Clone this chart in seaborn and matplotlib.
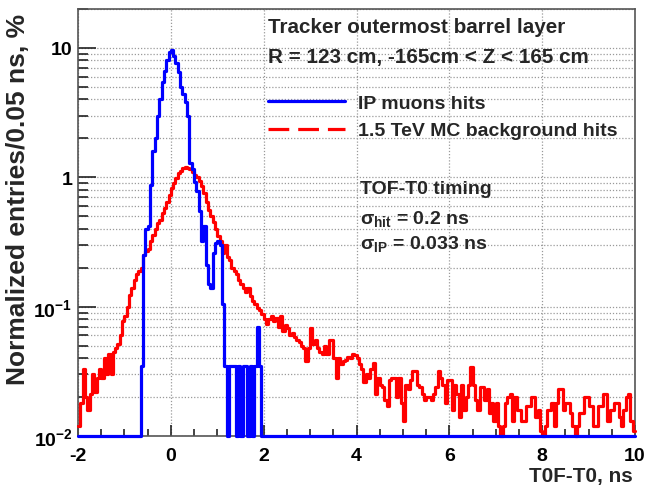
import numpy as np
import matplotlib
matplotlib.use("Agg")
import matplotlib.pyplot as plt
from matplotlib import font_manager
from matplotlib.lines import Line2D
from matplotlib.ticker import FixedLocator, FixedFormatter, MultipleLocator, LogLocator, NullFormatter
import seaborn as sns

# ---------------- data (normalized entries per 0.05 ns bin, %) ----------------
bin_width = 0.05
x_min, x_max = -2.0, 10.0

# IP muon hits: first non-empty bin starts at -0.65 ns
blue_start = -0.65
blue_values = [
    0.035, 0.25, 0.40, 0.42, 0.87, 1.6, 2.0, 3.0, 4.0, 5.5,
    6.6, 8.0, 9.3, 9.6, 8.6, 7.6, 6.5, 5.0, 4.4, 3.8,
    3.0, 1.3, 1.15, 0.92, 0.78, 0.55, 0.32, 0.42, 0.21, 0.15,
    0.14, 0.26, 0.31, 0.32, 0.30, 0.104, 0.035, 0.0, 0.035, 0.035,
    0.035, 0.0, 0.035, 0.0, 0.035, 0.035, 0.0, 0.035, 0.0, 0.035,
    0.07, 0.035, 0.0,
]

# 1.5 TeV MC background hits: bins from -2 to 10 ns
red_values = [
    # -2 .. -1
    0.012, 0.018, 0.033, 0.020, 0.016, 0.021, 0.030, 0.022, 0.028, 0.033,
    0.028, 0.040, 0.030, 0.043, 0.030, 0.045, 0.048, 0.051, 0.060, 0.078,
    # -1 .. 0
    0.085, 0.100, 0.124, 0.140, 0.160, 0.180, 0.190, 0.200, 0.250, 0.270,
    0.280, 0.320, 0.360, 0.400, 0.440, 0.470, 0.530, 0.580, 0.650, 0.730,
    # 0 .. 1
    0.82, 0.90, 0.98, 1.08, 1.12, 1.17, 1.20, 1.18, 1.15, 1.10,
    1.05, 1.00, 0.93, 0.85, 0.75, 0.65, 0.56, 0.50, 0.45, 0.40,
    # 1 .. 2
    0.350, 0.320, 0.260, 0.300, 0.240, 0.230, 0.200, 0.190, 0.180, 0.160,
    0.150, 0.140, 0.130, 0.140, 0.120, 0.110, 0.105, 0.098, 0.095, 0.087,
    # 2 .. 3
    0.080, 0.073, 0.080, 0.085, 0.078, 0.082, 0.070, 0.085, 0.065, 0.072,
    0.069, 0.060, 0.063, 0.058, 0.055, 0.053, 0.050, 0.048, 0.038, 0.048,
    # 3 .. 4
    0.069, 0.051, 0.055, 0.048, 0.045, 0.043, 0.050, 0.043, 0.055, 0.055,
    0.040, 0.028, 0.040, 0.036, 0.038, 0.039, 0.041, 0.040, 0.043, 0.042,
    # 4 .. 5
    0.040, 0.036, 0.033, 0.026, 0.030, 0.028, 0.033, 0.037, 0.021, 0.028,
    0.025, 0.024, 0.019, 0.017, 0.027, 0.028, 0.028, 0.020, 0.028, 0.018,
    # 5 .. 6
    0.013, 0.025, 0.023, 0.027, 0.032, 0.032, 0.025, 0.024, 0.021, 0.019,
    0.020, 0.020, 0.019, 0.021, 0.024, 0.032, 0.028, 0.025, 0.018, 0.027,
    # 6 .. 7
    0.027, 0.016, 0.025, 0.021, 0.014, 0.025, 0.016, 0.020, 0.025, 0.034,
    0.025, 0.019, 0.016, 0.024, 0.024, 0.019, 0.023, 0.015, 0.018, 0.013,
    # 7 .. 8
    0.018, 0.012, 0.0, 0.012, 0.018, 0.020, 0.021, 0.013, 0.020, 0.016,
    0.016, 0.013, 0.013, 0.017, 0.017, 0.020, 0.020, 0.014, 0.016, 0.011,
    # 8 .. 9
    0.0, 0.012, 0.016, 0.016, 0.018, 0.012, 0.018, 0.023, 0.023, 0.016,
    0.018, 0.018, 0.015, 0.012, 0.0, 0.012, 0.015, 0.015, 0.020, 0.020,
    # 9 .. 10
    0.017, 0.017, 0.012, 0.012, 0.017, 0.017, 0.021, 0.021, 0.013, 0.016,
    0.016, 0.018, 0.018, 0.014, 0.012, 0.016, 0.020, 0.021, 0.013, 0.011,
]

y_tick_values = [0.01, 0.1, 1, 10]
y_tick_labels = [r"$\mathbf{10^{-2}}$", r"$\mathbf{10^{-1}}$", "1", "10"]
x_tick_values = [-2, 0, 2, 4, 6, 8, 10]

# ---------------- styling ----------------
sns.set_theme(style="white")
installed = {f.name for f in font_manager.fontManager.ttflist}
if "Liberation Sans Narrow" in installed:
    hfont, k = "Liberation Sans Narrow", 1.0
else:
    hfont, k = "Liberation Sans", 0.85
plt.rcParams["font.family"] = [hfont, "Liberation Sans", "DejaVu Sans"]
plt.rcParams["font.weight"] = "bold"
plt.rcParams["axes.unicode_minus"] = False
plt.rcParams["mathtext.fontset"] = "custom"
plt.rcParams["mathtext.rm"] = hfont
plt.rcParams["mathtext.bf"] = hfont + ":bold"
plt.rcParams["mathtext.it"] = hfont + ":italic"

fs_tick = 16.5 * k
fs_text = 17.5 * k
fs_leg = 16.5 * k

fig = plt.figure(figsize=(6.48, 4.89), dpi=100)
ax = fig.add_axes([0.1204, 0.1063, 0.8596, 0.8732])

ymin, ymax = 0.01, 20.0
n_bins = len(red_values)
edges = x_min + bin_width * np.arange(n_bins + 1)

blue_full = np.zeros(n_bins)
i0 = int(round((blue_start - x_min) / bin_width))
blue_full[i0:i0 + len(blue_values)] = blue_values
red_full = np.asarray(red_values, dtype=float)

def step_y(v):
    v = np.maximum(np.asarray(v, dtype=float), ymin)
    return np.append(v, v[-1])

ax.set_yscale("log")
sns.lineplot(x=edges, y=step_y(red_full), ax=ax, color="#ff0000", lw=2.3,
             drawstyle="steps-post", sort=False, estimator=None, clip_on=False, zorder=3)
sns.lineplot(x=edges, y=step_y(blue_full), ax=ax, color="#0000ff", lw=2.3,
             drawstyle="steps-post", sort=False, estimator=None, clip_on=False, zorder=4)

ax.set_xlim(x_min, x_max)
ax.set_ylim(ymin, ymax)

# ticks (ROOT style: inside, left/bottom only)
ax.yaxis.set_major_locator(FixedLocator(y_tick_values))
ax.yaxis.set_major_formatter(FixedFormatter(y_tick_labels))
ax.yaxis.set_minor_locator(LogLocator(base=10, subs=np.arange(2, 10)))
ax.yaxis.set_minor_formatter(NullFormatter())
ax.xaxis.set_major_locator(FixedLocator(x_tick_values))
ax.xaxis.set_minor_locator(MultipleLocator(0.5))
ax.tick_params(axis="both", which="both", direction="in", colors="#222222",
               labelcolor="black", labelsize=fs_tick, bottom=True, left=True,
               top=False, right=False)
ax.tick_params(axis="y", which="major", length=13, width=1.2, pad=4)
ax.tick_params(axis="y", which="minor", length=7, width=1.2)
ax.tick_params(axis="x", which="major", length=8, width=1.2, pad=8)
ax.tick_params(axis="x", which="minor", length=5, width=1.2)
for lab in ax.get_xticklabels() + ax.get_yticklabels():
    lab.set_fontweight("bold")

# grid: dotted
ax.grid(True, which="major", axis="x", color="#9a9a9a", ls=(0, (1, 1.5)), lw=0.9)
ax.grid(True, which="both", axis="y", color="#9a9a9a", ls=(0, (1, 1.5)), lw=0.9)

for sp in ax.spines.values():
    sp.set_color("#555555")
    sp.set_linewidth(1.2)

ax.set_xlabel("T0F-T0, ns", fontsize=fs_text, fontweight="bold", loc="right")
ax.xaxis.set_label_coords(0.995, -0.07)
ax.set_ylabel("Normalized entries/0.05 ns, %", fontsize=19, fontweight="bold",
              loc="top", family=["Liberation Sans", "DejaVu Sans"])
ax.yaxis.set_label_coords(-0.086, 0.99)

# annotations
ax.text(0.341, 0.958, "Tracker outermost barrel layer", transform=ax.transAxes,
        fontsize=fs_text, fontweight="bold", va="center", ha="left")
ax.text(0.341, 0.889, "R = 123 cm, -165cm < Z < 165 cm", transform=ax.transAxes,
        fontsize=fs_text, fontweight="bold", va="center", ha="left")

handles = [Line2D([], [], color="#0000ff", lw=2.3),
           Line2D([], [], color="#ff0000", lw=2.3, ls=(0, (6.5, 2.8)))]
ax.legend(handles, ["IP muons hits", "1.5 TeV MC background hits"],
          loc="upper left", bbox_to_anchor=(0.341, 0.800), frameon=False,
          handlelength=77 / (fs_leg * 100 / 72), handletextpad=0.65, labelspacing=0.5,
          borderpad=0, borderaxespad=0, prop={"weight": "bold", "size": fs_leg})

ax.text(0.506, 0.580, "TOF-T0 timing", transform=ax.transAxes,
        fontsize=fs_leg, fontweight="bold", va="center", ha="left")
ax.text(0.506, 0.511, r"$\mathrm{\sigma}_{\mathbf{hit}}$ = 0.2 ns", transform=ax.transAxes,
        fontsize=fs_leg, fontweight="bold", va="center", ha="left")
ax.text(0.506, 0.453, r"$\mathrm{\sigma}_{\mathbf{IP}}$ = 0.033 ns", transform=ax.transAxes,
        fontsize=fs_leg, fontweight="bold", va="center", ha="left")

fig.savefig("out.png", dpi=100, facecolor="white")
